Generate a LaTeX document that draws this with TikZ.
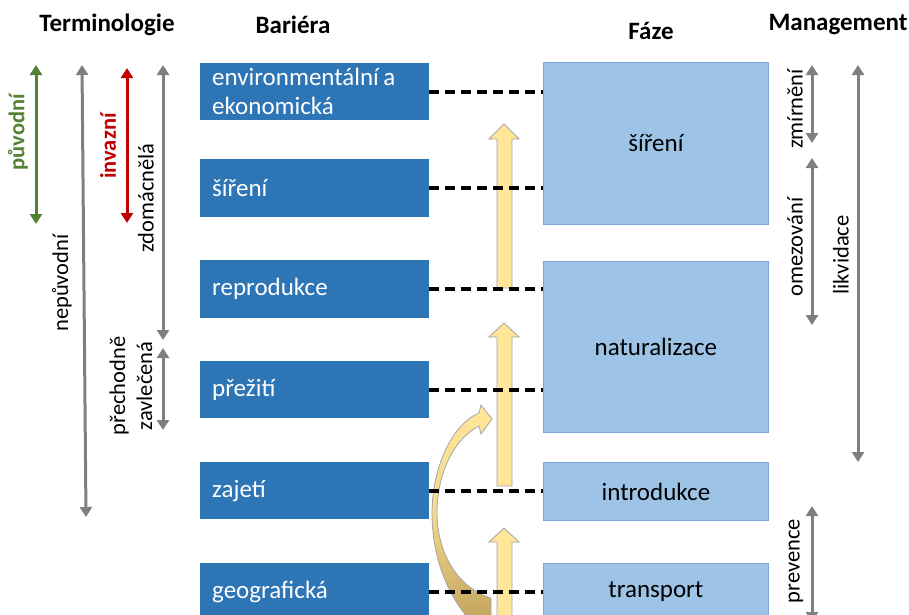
\documentclass[tikz,border=0pt]{standalone}
\usepackage{fontspec}
\setmainfont{Carlito}
\usetikzlibrary{arrows.meta,calc}
\definecolor{darkb}{HTML}{2E75B6}
\definecolor{lightb}{HTML}{9DC3E6}
\definecolor{lightbd}{HTML}{7DA7D9}
\definecolor{grayar}{HTML}{7F7F7F}
\definecolor{greenar}{HTML}{548235}
\definecolor{redar}{HTML}{C00000}
\definecolor{yel}{HTML}{FFE699}
\definecolor{yelbd}{HTML}{A5A5A5}
\definecolor{goldc}{HTML}{C4A65E}
\tikzset{
  head/.style={font=\fontsize{25}{29}\selectfont\bfseries, inner sep=0pt},
  barbox/.style={fill=darkb, text=white, anchor=north west, minimum width=229pt,
     text width=205pt, inner xsep=12pt, inner ysep=0pt, align=left,
     font=\fontsize{25}{29}\selectfont},
  fazebox/.style={fill=lightb, draw=lightbd, line width=0.8pt, anchor=north west,
     minimum width=225pt, inner sep=0pt, font=\fontsize{25}{29}\selectfont},
  rng/.style={draw=#1, line width=3pt, <->, >={Triangle[width=12pt,length=10pt]}},
  lab/.style={rotate=90, inner sep=0pt, font=\fontsize{22.5}{27}\selectfont, align=center},
  dashln/.style={draw=black, line width=4pt, dash pattern=on 10pt off 6pt},
  yarrow/.style={fill=yel, draw=yelbd, line width=0.8pt, line join=miter},
}
\begin{document}
\begin{tikzpicture}[x=1pt,y=-1pt]
\useasboundingbox (0,0) rectangle (909,614);
\clip (0,0) rectangle (909,614);

% headings
\node[head] (hT) at (107,25) {Terminologie};
\node[head] (hB) at (293,25) {Bariéra};
\node[head] (hF) at (651,31) {Fáze};
\node[head] (hM) at (838,25) {Management};

% barrier boxes
\node[barbox, minimum height=57pt] (b1) at (200,63) {environmentální\hspace{0.18em}a\\ekonomická};
\node[barbox, minimum height=58pt] (b2) at (200,159) {šíření};
\node[barbox, minimum height=58pt] (b3) at (200,260) {reprodukce};
\node[barbox, minimum height=57pt] (b4) at (200,361) {přežití};
\node[barbox, minimum height=57pt] (b5) at (200,462) {zajetí};
\node[barbox, minimum height=57pt] (b6) at (200,563) {geografická};

% phase boxes
\node[fazebox, minimum height=162pt] (f1) at (543,62) {šíření};
\node[fazebox, minimum height=171pt] (f2) at (543,261) {naturalizace};
\node[fazebox, minimum height=58pt] (f3) at (543,462) {introdukce};
\node[fazebox, minimum height=57pt] (f4) at (543,563) {transport};

% yellow block arrows
\draw[yarrow] (489,139) -- (504,124) -- (519,139) -- (512,139) -- (512,288) -- (497,288) -- (497,139) -- cycle;
\draw[yarrow] (489,337) -- (504,323) -- (519,337) -- (512,337) -- (512,486) -- (497,486) -- (497,337) -- cycle;
\draw[yarrow] (489,542) -- (504,528) -- (519,542) -- (512,542) -- (512,620) -- (497,620) -- (497,542) -- cycle;

% curved arrow
\path[draw=yelbd, line width=0.8pt, top color=yel, bottom color=goldc, middle color=yel!80!goldc]
  (479,413) -- (481,405) -- (492,419) -- (481,434) -- (479,426)
  .. controls (455,438) and (437,472) .. (437,513)
  .. controls (437,553) and (458,588) .. (491,598)
  -- (491,618) -- (468,618)
  .. controls (446,592) and (432,555) .. (432,513)
  .. controls (432,468) and (452,424) .. (479,413) -- cycle;

% dashed connectors
\draw[dashln] (b1.east) -- (b1.east -| f1.west);
\draw[dashln] (b2.east) -- (b2.east -| f1.west);
\draw[dashln] (b3.east) -- (b3.east -| f2.west);
\draw[dashln] (b4.east) -- (b4.east -| f2.west);
\draw[dashln] (b5.east) -- (f3.west |- b5.east);
\draw[dashln] (b6.east) -- (f4.west |- b6.east);

% terminology ranges
\coordinate (g1) at (36,65);  \coordinate (g2) at (36,224);
\coordinate (n1) at (82,65);  \coordinate (n2) at (86,517);
\coordinate (r1) at (127,68); \coordinate (r2) at (127,223);
\coordinate (z1) at (163,65); \coordinate (z2) at (163,340);
\coordinate (p1) at (163,348); \coordinate (p2) at (163,430);
\draw[rng=greenar] (g1) -- (g2);
\draw[rng=grayar] (n1) -- (n2);
\draw[rng=redar] (r1) -- (r2);
\draw[rng=grayar] (z1) -- (z2);
\draw[rng=grayar] (p1) -- (p2);
\node[lab, text=greenar, font=\fontsize{22.5}{27}\selectfont\bfseries] (lg) at (18,132) {původní};
\node[lab] (ln) at (62,283) {nepůvodní};
\node[lab, text=redar, font=\fontsize{22.5}{27}\selectfont\bfseries] (lr) at (108,146) {invazní};
\node[lab] (lz) at (146,198) {zdomácnělá};
\node[lab] (lp) at (131,386) {přechodně\\zavlečená};

% management ranges
\coordinate (m1) at (812,65);  \coordinate (m2) at (812,143);
\coordinate (o1) at (812,158); \coordinate (o2) at (812,325);
\coordinate (k1) at (858,65);  \coordinate (k2) at (858,462);
\coordinate (v1) at (812,506); \coordinate (v2) at (812,622);
\draw[rng=grayar] (m1) -- (m2);
\draw[rng=grayar] (o1) -- (o2);
\draw[rng=grayar] (k1) -- (k2);
\draw[rng=grayar] (v1) -- (v2);
\node[lab] (lm) at (795,109) {zmírnění};
\node[lab] (lo) at (795,247) {omezování};
\node[lab] (lk) at (841,255) {likvidace};
\node[lab] (lv) at (796,561) {prevence};
\end{tikzpicture}
\end{document}
